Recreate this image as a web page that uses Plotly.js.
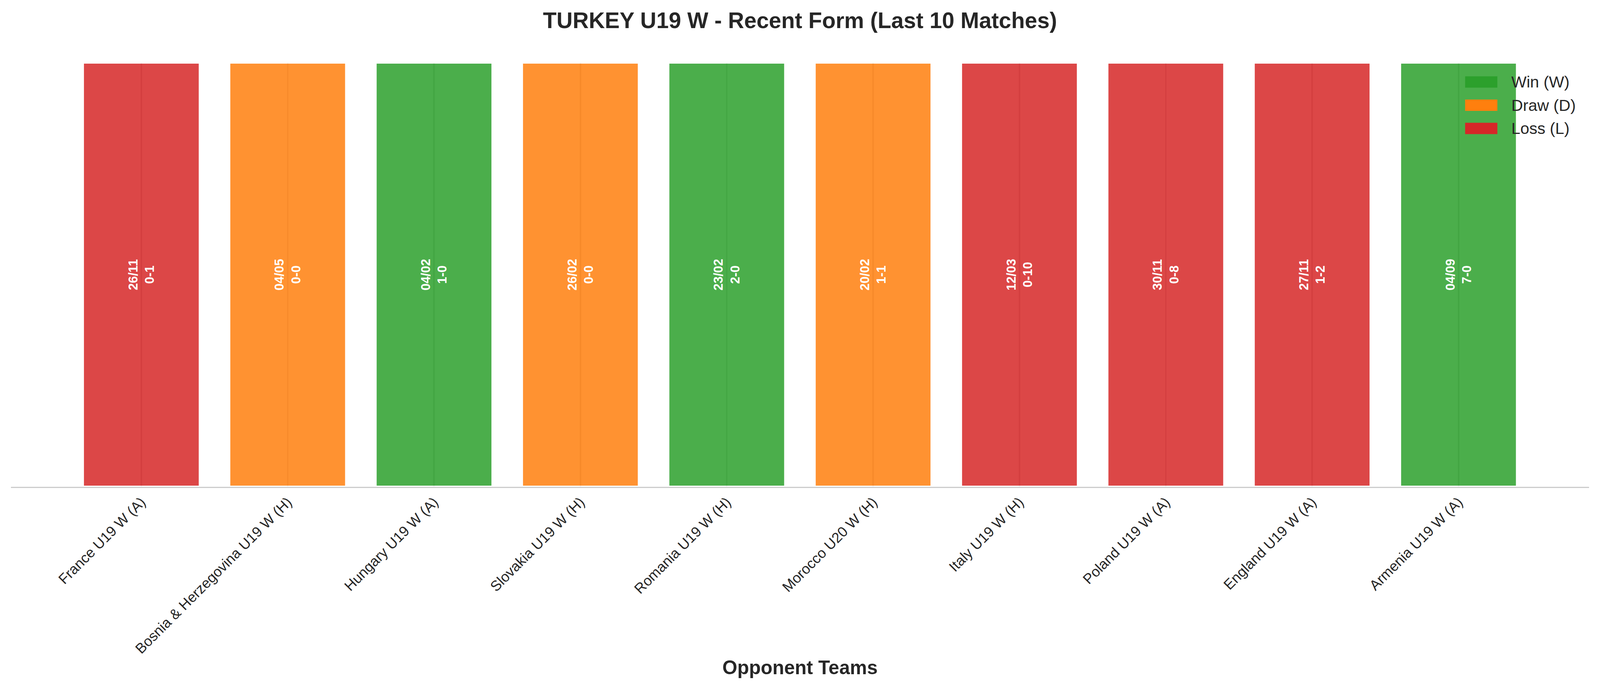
<!DOCTYPE html>
<html>
<head>
<meta charset="utf-8">
<script src="https://cdn.plot.ly/plotly-3.0.1.min.js"></script>
<style>html,body{margin:0;padding:0;background:#fff;overflow:hidden;}#chart{width:100vw;height:100vh;}</style>
</head>
<body>
<div id="chart"></div>
<script>
// ---- data ----
const opponents = [
  "France U19 W (A)",
  "Bosnia & Herzegovina U19 W (H)",
  "Hungary U19 W (A)",
  "Slovakia U19 W (H)",
  "Romania U19 W (H)",
  "Morocco U20 W (H)",
  "Italy U19 W (H)",
  "Poland U19 W (A)",
  "England U19 W (A)",
  "Armenia U19 W (A)"
];
const results = ["L", "D", "W", "D", "W", "D", "L", "L", "L", "W"];
const dates = ["26/11", "04/05", "04/02", "26/02", "23/02", "20/02", "12/03", "30/11", "27/11", "04/09"];
const scores = ["0-1", "0-0", "1-0", "0-0", "2-0", "1-1", "0-10", "0-8", "1-2", "7-0"];
const heights = [1, 1, 1, 1, 1, 1, 1, 1, 1, 1];
const legendKeys = ["W", "D", "L"];
const legendNames = ["Win (W)", "Draw (D)", "Loss (L)"];

// ---- styling ----
const colorMap = { W: "#2ca02c", D: "#ff7f0e", L: "#d62728" };
const FONT = "Liberation Sans, Arial, Helvetica, sans-serif";
const TXT = "#262626";

// design size and actual viewport
const DW = 4170, DH = 1770;
const W = document.documentElement.clientWidth || window.innerWidth || DW;
const H = document.documentElement.clientHeight || window.innerHeight || DH;
const sx = W / DW, sy = H / DH, s = Math.min(sx, sy);

const M = { l: 29 * sx, r: 28 * sx, t: 160 * sy, b: 523 * sy };
const plotW = W - M.l - M.r, plotH = H - M.t - M.b;
const px2x = p => (p * sx - M.l) / plotW;
const py2y = p => (H - M.b - p * sy) / plotH;

const barTrace = {
  type: "bar",
  x: opponents,
  y: heights,
  width: 0.8,
  marker: {
    color: results.map(r => colorMap[r]),
    opacity: 0.85,
    line: { color: "#ffffff", width: 6 * s }
  },
  text: dates.map((d, i) => d + "<br>" + scores[i]),
  textposition: "inside",
  insidetextanchor: "middle",
  textangle: -90,
  textfont: { family: FONT, size: 33 * s, color: "#ffffff", weight: "bold" },
  showlegend: false,
  hoverinfo: "skip"
};

// legend (matplotlib-style wide patches) built from the legend arrays
const legRowTop = 210, legRowGap = 59.5, patchX0 = 3819, patchX1 = 3903, patchH = 29, legTextX = 3937;
const legendShapes = legendKeys.map((k, i) => {
  const cy = legRowTop + i * legRowGap;
  return {
    type: "rect", xref: "paper", yref: "paper",
    x0: px2x(patchX0), x1: px2x(patchX1),
    y0: py2y(cy + patchH / 2), y1: py2y(cy - patchH / 2),
    fillcolor: colorMap[k], line: { width: 0 }, layer: "above"
  };
});
const legendAnnots = legendNames.map((n, i) => {
  const cy = legRowTop + i * legRowGap;
  return {
    xref: "paper", yref: "paper",
    x: px2x(legTextX), y: py2y(cy),
    xanchor: "left", yanchor: "middle",
    text: n, showarrow: false,
    font: { family: FONT, size: 42 * s, color: TXT }
  };
});

const layout = {
  width: W,
  height: H,
  paper_bgcolor: "#ffffff",
  plot_bgcolor: "#ffffff",
  margin: { l: M.l, r: M.r, t: M.t, b: M.b, pad: 0 },
  font: { family: FONT, color: TXT, size: 42 * s },
  title: {
    text: "<b>TURKEY U19 W - Recent Form (Last 10 Matches)</b>",
    font: { family: FONT, size: 58 * s, color: TXT },
    x: 0.5, xanchor: "center",
    yref: "container", y: 1 - 52 / DH, yanchor: "middle"
  },
  xaxis: {
    type: "category",
    categoryorder: "array",
    categoryarray: opponents,
    range: [-0.891, 9.892],
    showgrid: true,
    gridcolor: "#cccccc",
    gridwidth: 4 * s,
    showline: true,
    linecolor: "#cccccc",
    linewidth: 3 * s,
    ticks: "",
    tickangle: -45,
    ticklabelshift: -18 * sx,
    tickfont: { family: FONT, size: 37.5 * s, color: TXT },
    zeroline: false,
    title: {
      text: "<b>Opponent Teams</b>",
      font: { family: FONT, size: 50 * s, color: TXT },
      standoff: 12 * s
    }
  },
  yaxis: {
    range: [0, 1],
    visible: false,
    showgrid: false,
    zeroline: false,
    fixedrange: true
  },
  shapes: legendShapes,
  annotations: legendAnnots,
  bargap: 0.2,
  showlegend: false
};

Plotly.newPlot("chart", [barTrace], layout, { displayModeBar: false, staticPlot: true });
</script>
</body>
</html>
